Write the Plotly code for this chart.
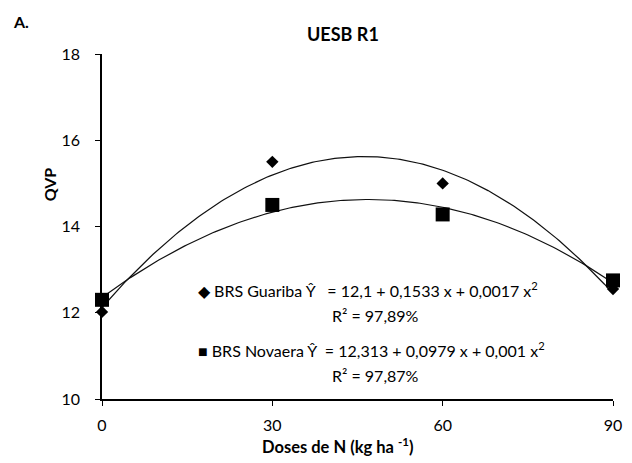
import numpy as np
import plotly.graph_objects as go

# N doses (kg/ha) and QVP readings for each cultivar
doses = [0, 30, 60, 90]
guariba = [12.02, 15.5, 15.0, 12.55]
novaera = [12.3, 14.5, 14.28, 12.75]

x_ticks = [0, 30, 60, 90]
y_ticks = [10, 12, 14, 16, 18]

FONT = "Lato"

# quadratic regression curves fitted to each series
xs = np.linspace(0, 90, 181)
fit_g = np.polyval(np.polyfit(doses, guariba, 2), xs)
fit_n = np.polyval(np.polyfit(doses, novaera, 2), xs)

fig = go.Figure()
fig.add_trace(go.Scatter(x=xs, y=fit_g, mode="lines",
                         line=dict(color="#111111", width=1.2), hoverinfo="skip"))
fig.add_trace(go.Scatter(x=xs, y=fit_n, mode="lines",
                         line=dict(color="#111111", width=1.2), hoverinfo="skip"))
fig.add_trace(go.Scatter(x=doses, y=novaera, mode="markers", cliponaxis=False,
                         marker=dict(symbol="square", size=14, color="black")))
fig.add_trace(go.Scatter(x=doses, y=guariba, mode="markers", cliponaxis=False,
                         marker=dict(symbol="diamond", size=9.5, color="black")))

L, R, T, B = 101.7, 622.7, 54, 399
W, H = 632, 463


def px(x):
    return (x - L) / (R - L)


def py(y):
    return (B - y) / (B - T)


def note(text, x, y, size=16, bold=False, anchor="center", angle=0):
    if bold:
        text = "<b>" + text + "</b>"
    fig.add_annotation(text=text, x=px(x), y=py(y), xref="paper", yref="paper",
                       xanchor=anchor, yanchor="middle", showarrow=False,
                       textangle=angle,
                       font=dict(family=FONT, size=size, color="black"))


note("A.", 9, 22, size=16, bold=True, anchor="left")
note("UESB R1", 347, 34, size=18, bold=True)
note("QVP", 48, 184, size=16, bold=True, angle=-90)
note("Doses de N (kg ha <sup>-1</sup>)", 342, 446, size=16.5, bold=True)

note("◆ BRS Guariba Ŷ   = 12,1 + 0,1533 x + 0,0017 x<sup>2</sup>", 198, 289, anchor="left")
note("R² = 97,89%", 381, 315)
note("■ BRS Novaera Ŷ  = 12,313 + 0,0979 x + 0,001 x<sup>2</sup>", 198, 349, anchor="left")
note("R² = 97,87%", 381, 375)

fig.update_layout(
    width=W, height=H,
    margin=dict(l=L, r=W - R, t=T, b=H - B, pad=0),
    paper_bgcolor="white", plot_bgcolor="white",
    showlegend=False,
    font=dict(family=FONT, size=16, color="black"),
    xaxis=dict(range=[0, 90], tickvals=x_ticks, ticks="outside", ticklen=5,
               tickwidth=1, tickcolor="black", showline=True, linecolor="black",
               linewidth=1.5, showgrid=False, zeroline=False,
               ticklabelstandoff=6, ticklabeloverflow="allow",
               tickfont=dict(size=16)),
    yaxis=dict(range=[10, 18], tickvals=y_ticks, ticks="outside", ticklen=5,
               tickwidth=1, tickcolor="black", showline=True, linecolor="black",
               linewidth=1.5, showgrid=False, zeroline=False,
               ticklabelstandoff=12, ticklabeloverflow="allow",
               tickfont=dict(size=16)),
)

fig.write_html("out.html")
